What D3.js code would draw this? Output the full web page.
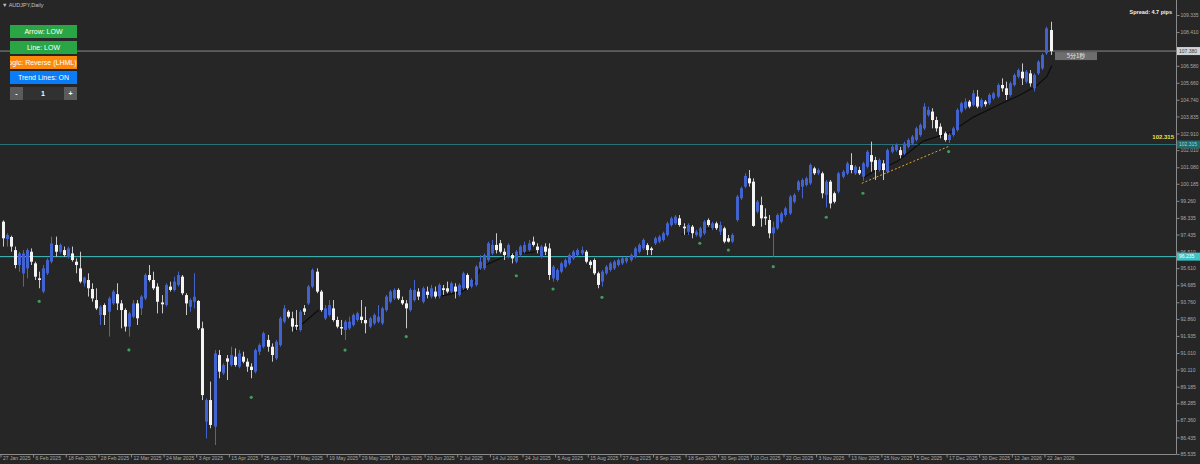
<!DOCTYPE html>
<html><head><meta charset="utf-8">
<script src="https://cdn.jsdelivr.net/npm/d3@7"></script>
<style>html,body{margin:0;padding:0;background:#262626;overflow:hidden}svg{display:block}</style>
</head><body><svg id="c" width="1200" height="464"></svg>
<script>
// ---------------- DATA ----------------
const symbolTitle = "▼ AUDJPY,Daily";
const open = [
98.13,97.19,97.30,96.59,95.78,95.33,95.60,96.50,95.87,95.06,
94.34,95.33,95.96,96.87,96.50,96.59,96.23,96.41,95.96,95.60,
94.79,94.97,94.48,93.88,93.07,93.61,93.25,93.70,94.20,93.70,
93.34,92.44,92.98,93.70,93.43,93.97,95.24,94.97,94.61,93.75,
93.61,94.61,94.43,94.70,95.15,94.15,93.52,93.79,93.83,92.35,
87.29,88.46,87.02,90.90,89.91,90.72,90.36,90.81,90.27,90.81,
90.54,90.27,90.00,91.08,91.35,91.72,91.35,90.72,91.44,92.71,
93.25,92.89,92.53,92.26,93.43,93.70,94.61,95.42,94.34,92.89,
93.07,93.43,92.80,92.42,92.26,92.35,92.53,92.80,92.98,92.80,
92.44,92.62,92.71,92.62,93.34,93.79,93.97,94.43,93.88,93.70,
93.34,93.88,94.34,93.79,94.34,94.07,94.34,94.07,94.52,94.52,
94.34,94.61,94.16,94.52,95.24,94.61,94.70,95.60,95.60,96.05,
96.41,96.87,96.96,96.50,96.23,96.32,95.96,96.32,96.50,96.59,
97.05,96.78,96.23,96.78,96.68,95.06,94.97,95.42,95.69,95.87,
96.14,96.32,96.41,96.50,95.96,96.05,95.33,94.88,95.33,95.51,
95.60,95.78,95.87,95.98,96.05,96.23,96.50,96.68,96.86,96.68,
96.96,97.05,97.14,97.41,97.95,98.04,98.31,97.86,97.59,97.86,
97.41,97.32,97.50,98.22,97.77,98.04,97.59,97.77,97.23,97.05,
98.22,99.40,100.03,100.48,100.30,98.67,99.03,98.40,98.22,97.50,
97.77,98.13,98.49,98.58,99.21,99.85,100.03,100.12,100.21,101.02,
100.75,100.75,99.58,100.30,99.67,99.76,100.57,100.75,101.20,100.75,
100.93,100.57,101.11,101.74,101.47,100.93,101.29,100.84,101.92,102.01,
102.01,101.83,102.19,102.37,102.56,102.83,103.19,103.91,104.10,103.64,
103.28,102.92,102.56,102.83,103.10,104.10,104.28,104.64,104.46,104.91,
104.37,104.64,104.55,104.82,104.91,105.54,105.36,105.00,105.54,105.99,
106.26,105.72,106.17,105.36,106.17,106.44,107.26,108.52];
const high = [
98.20,97.50,97.37,96.78,96.50,96.59,96.68,96.68,95.96,95.42,
95.78,96.14,97.32,97.32,96.95,96.78,96.78,96.78,96.14,96.50,
95.15,95.33,94.79,94.52,93.61,93.70,94.07,94.43,94.79,93.88,
93.43,93.25,93.88,93.88,94.15,95.33,95.78,95.42,94.79,94.15,
94.79,94.88,95.15,95.42,95.24,94.25,93.97,95.33,93.88,92.71,
88.55,89.46,91.17,91.17,90.45,90.90,91.35,91.26,91.17,91.08,
90.72,90.45,91.26,91.53,92.17,91.99,91.53,91.72,92.98,93.61,
93.34,93.25,93.34,93.34,93.61,94.70,95.60,95.60,94.43,93.61,
93.88,93.88,92.98,92.80,92.80,92.98,93.16,93.25,93.88,93.52,
92.98,93.16,93.61,93.52,94.16,94.43,94.52,94.52,94.07,93.88,
94.52,94.97,94.52,94.61,94.61,94.70,94.61,94.79,94.70,94.88,
94.88,94.79,94.79,95.42,95.33,95.06,95.78,96.32,96.41,97.05,
97.14,97.50,97.14,96.68,96.96,96.41,96.59,96.87,97.05,97.14,
97.32,96.96,96.87,96.96,96.96,95.78,95.60,95.96,96.14,96.41,
96.59,96.68,96.78,96.59,96.05,96.14,95.42,95.51,95.78,95.96,
96.05,96.14,96.23,96.23,96.41,96.77,96.96,97.23,96.96,96.77,
97.32,97.41,97.59,98.13,98.40,98.49,98.49,98.04,98.04,97.95,
97.68,97.86,98.22,98.31,98.13,98.13,98.13,97.86,97.41,97.50,
99.58,100.03,100.75,100.93,100.48,99.30,99.49,98.85,98.49,98.13,
98.58,98.67,98.94,99.58,99.67,100.39,100.48,100.57,101.29,101.11,
101.02,100.84,100.39,100.39,99.76,100.84,100.93,101.38,101.84,101.20,
101.11,101.38,102.01,102.47,101.65,101.56,101.47,102.10,102.28,102.37,
102.19,102.47,102.65,102.83,103.28,103.46,104.55,104.37,104.28,103.82,
103.46,103.01,102.92,103.28,104.28,104.64,104.82,104.73,105.27,105.27,
104.82,104.73,105.09,105.18,105.63,105.90,105.72,105.72,106.17,106.44,
106.71,106.35,106.35,106.17,106.89,107.26,108.70,108.97];
const low = [
96.78,96.78,96.50,95.60,95.42,94.61,95.06,95.78,94.97,94.52,
94.25,95.24,95.87,96.23,96.41,96.23,96.14,95.96,95.33,94.79,
94.61,94.07,93.79,93.34,92.53,92.53,91.90,93.61,93.34,92.35,
92.17,91.90,92.89,92.53,93.07,93.88,94.88,94.43,93.16,93.16,
93.52,94.34,94.34,94.61,94.15,93.07,93.25,93.43,92.26,88.46,
86.38,86.93,86.02,89.64,89.82,89.55,90.27,90.27,90.18,90.45,
89.99,89.64,89.91,90.90,91.26,91.08,90.54,90.63,91.35,92.62,
92.89,92.17,92.26,92.17,93.07,93.61,94.52,94.25,93.25,92.80,
92.98,92.71,92.35,91.99,91.72,92.26,92.44,92.71,92.62,92.08,
92.35,92.53,92.62,92.53,93.25,93.70,93.88,93.88,93.61,92.35,
93.25,93.79,93.88,93.70,93.97,93.97,93.97,93.97,94.16,94.25,
94.25,93.97,94.07,94.43,94.43,94.52,94.61,95.51,95.51,95.96,
96.32,96.41,96.41,96.05,96.14,95.87,95.87,96.23,96.41,96.50,
96.78,96.41,96.14,96.32,94.97,94.88,94.88,95.33,95.60,95.78,
96.05,96.23,96.32,95.87,95.60,95.24,94.52,94.61,95.24,95.42,
95.51,95.69,95.78,95.87,95.96,96.14,96.41,96.59,96.32,96.32,
96.86,96.96,97.05,97.32,97.86,97.95,97.86,97.41,97.41,97.23,
97.32,97.23,97.41,97.86,97.68,97.68,97.41,96.96,97.00,96.96,
98.13,99.31,99.94,100.03,97.86,98.58,97.86,97.95,97.23,96.23,
97.68,98.04,98.40,98.49,99.12,99.76,99.40,100.03,100.12,100.66,
100.66,99.40,98.90,98.85,99.12,99.67,100.48,100.66,100.75,100.66,
100.66,100.35,101.02,100.84,100.39,100.84,100.39,100.75,101.83,101.92,
101.56,101.74,102.10,102.28,102.47,102.74,103.10,103.82,103.19,103.01,
102.65,102.47,102.40,102.74,103.01,104.01,104.19,104.28,104.37,104.28,
104.28,104.37,104.46,104.73,104.82,105.18,104.73,104.91,105.45,105.90,
105.54,105.63,105.45,105.18,106.08,106.35,107.17,107.17];
const close = [
97.23,97.41,96.78,95.78,96.41,96.41,96.59,95.96,95.15,94.97,
95.60,96.05,96.95,96.50,96.87,96.32,96.68,96.05,95.78,94.88,
95.10,94.52,93.97,93.43,93.52,93.07,93.97,94.34,93.70,93.34,
92.44,93.16,93.70,92.89,94.07,95.24,94.97,94.52,93.79,93.65,
94.70,94.43,94.88,95.24,94.25,93.70,93.88,94.06,92.35,88.73,
88.46,87.11,90.99,90.00,90.36,90.54,90.90,90.36,90.99,90.54,
90.27,90.09,91.17,91.44,92.08,91.35,90.90,91.62,92.89,93.43,
92.98,92.44,92.44,93.25,93.25,94.61,95.51,94.34,93.34,93.43,
93.61,92.80,92.44,92.34,92.71,92.71,93.07,93.16,92.80,92.62,
92.89,93.07,92.98,93.43,94.07,94.34,94.43,93.97,93.70,93.43,
94.43,94.43,94.07,94.52,94.16,94.52,94.07,94.70,94.43,94.34,
94.79,94.34,94.70,95.33,94.52,94.97,95.69,95.96,96.32,96.96,
96.87,96.59,96.50,96.32,96.87,96.14,96.50,96.78,96.87,96.96,
96.87,96.59,96.78,96.50,95.24,95.69,95.51,95.87,96.05,96.32,
96.50,96.59,96.59,95.96,95.78,95.33,94.70,95.42,95.69,95.87,
95.96,96.05,96.14,96.16,96.32,96.68,96.87,97.14,96.59,96.59,
97.23,97.32,97.50,98.04,98.31,98.40,97.95,97.77,97.95,97.50,
97.59,97.77,98.13,97.95,98.04,97.77,97.95,97.05,97.05,97.41,
99.49,99.94,100.61,100.21,97.90,99.21,98.31,98.31,97.50,97.82,
98.49,98.58,98.85,99.49,99.58,100.30,100.39,100.48,101.20,100.75,
100.93,99.67,100.30,99.12,99.21,100.75,100.84,101.29,100.93,101.11,
100.75,101.29,101.92,101.38,100.93,101.47,100.93,102.01,102.19,102.28,
101.74,102.37,102.56,102.74,103.19,103.37,104.37,104.19,103.64,103.19,
102.83,102.56,102.83,103.19,104.19,104.55,104.64,104.37,105.09,104.37,
104.73,104.50,105.00,105.09,105.54,105.36,105.00,105.63,106.08,106.35,
105.90,106.26,105.63,106.08,106.80,107.17,108.61,107.38];

const dateLabels = ["27 Jan 2025","6 Feb 2025","18 Feb 2025","28 Feb 2025","12 Mar 2025","24 Mar 2025","3 Apr 2025","15 Apr 2025","25 Apr 2025","7 May 2025","19 May 2025","29 May 2025","10 Jun 2025","20 Jun 2025","2 Jul 2025","14 Jul 2025","24 Jul 2025","5 Aug 2025","15 Aug 2025","27 Aug 2025","8 Sep 2025","18 Sep 2025","30 Sep 2025","10 Oct 2025","22 Oct 2025","3 Nov 2025","13 Nov 2025","25 Nov 2025","5 Dec 2025","17 Dec 2025","30 Dec 2025","12 Jan 2026","22 Jan 2026"];
const dateTickIndex = [0,8,16,24,32,40,48,56,64,72,80,88,96,104,112,120,128,136,144,152,160,168,176,184,192,200,208,216,224,232,240,248,256];
const priceTicks = [109.335,108.410,107.495,106.580,105.660,104.740,103.835,102.910,102.010,101.080,100.185,99.260,98.335,97.435,96.510,95.610,94.685,93.760,92.860,91.935,91.010,90.110,89.185,88.285,87.360,86.435,85.535];

// "Line: LOW" indicator segments, [bar index, price]
const lowLineA = [[71.5,92.20],[77.5,93.34]];
const lowLineB = [[106,94.03],[112.6,94.34],[115,94.61],[117.5,95.69],[124,96.32],[130.6,96.50]];
const lowLineC = [[166.5,97.45],[170,97.52],[172,97.72],[176.5,97.80]];
const lowLineD = [[211,100.50],[213.5,100.84],[219.3,101.38],[225.8,102.50],[232.3,102.95],[238.1,103.80],[244.6,104.50],[249.5,105.00],[253.6,105.50],[256.1,106.00],[257.3,106.60]];
const trendLine = [[210.7,100.21],[231.9,102.20]];
// arrow signals [bar index, price]
const signalDots = [[9,93.81],[31,91.18],[61,88.61],[84,91.17],[99,91.90],[126,95.20],[135,94.48],[147,94.03],[171,96.96],[178,96.59],[189,95.69],[202,98.37],[211,99.67],[232,101.93]];

const currentPrice = 107.38;
const levelTeal = 102.315;
const levelCyan = 96.235;
const spreadText = "Spread: 4.7 pips";
const countdownText = "5分1秒";
const buttonLabels = ["Arrow: LOW","Line: LOW","Logic: Reverse (LHML)","Trend Lines: ON"];
const stepperValue = "1";

// ---------------- DRAW ----------------
const svg = d3.select("#c");
const W = 1200, H = 464, plotR = 1176, plotB = 454;
const FONT = "'Liberation Sans', Arial, sans-serif";
const BLUE = "#4263cf";

svg.append("rect").attr("width",W).attr("height",H).attr("fill","#262626");

const x = d3.scaleLinear().domain([0,257]).range([2.5, 2.5 + 4.078*257]);
const tickX = d3.scaleLinear().domain([0,257]).range([0, 4.078*257]);
const y = d3.scaleLinear().domain([85.535,109.335]).range([plotB,15]);

svg.append("defs").append("clipPath").attr("id","plot")
  .append("rect").attr("x",0).attr("y",0).attr("width",plotR).attr("height",plotB);
const plot = svg.append("g").attr("clip-path","url(#plot)");

// horizontal levels
plot.append("line").attr("x1",0).attr("x2",plotR).attr("y1",y(levelTeal)).attr("y2",y(levelTeal))
  .attr("stroke","#2b7479").attr("stroke-width",1);
plot.append("line").attr("x1",0).attr("x2",plotR).attr("y1",y(levelCyan)).attr("y2",y(levelCyan))
  .attr("stroke","#3fc3c3").attr("stroke-width",1);
plot.append("line").attr("x1",0).attr("x2",plotR).attr("y1",y(currentPrice)).attr("y2",y(currentPrice))
  .attr("stroke","#8a8a8a").attr("stroke-width",1);

// low line segments
const lineGen = d3.line().x(d=>x(d[0])).y(d=>y(d[1]));
[lowLineA,lowLineB,lowLineC,lowLineD].forEach(seg=>{
  plot.append("path").attr("d",lineGen(seg)).attr("fill","none").attr("stroke","#0d0d0d").attr("stroke-width",1.2);
});

// candles
const bars = d3.range(close.length).map(i=>({i,o:open[i],h:high[i],l:low[i],c:close[i]}));
const cg = plot.append("g");
cg.selectAll("line.w").data(bars).join("line")
  .attr("x1",d=>Math.round(x(d.i))+0.5).attr("x2",d=>Math.round(x(d.i))+0.5)
  .attr("y1",d=>y(Math.max(d.h,d.o,d.c))).attr("y2",d=>y(Math.min(d.l,d.o,d.c)))
  .attr("stroke",d=>d.c>=d.o?BLUE:"#c8c8c8").attr("stroke-width",1);
cg.selectAll("rect.b").data(bars).join("rect")
  .attr("x",d=>Math.round(x(d.i))-1).attr("width",3)
  .attr("y",d=>y(Math.max(d.o,d.c)))
  .attr("height",d=>Math.max(1,y(Math.min(d.o,d.c))-y(Math.max(d.o,d.c))))
  .attr("fill",d=>d.c>=d.o?BLUE:"#f4f4f4");

// trend line (dotted)
plot.append("path").attr("d",lineGen(trendLine)).attr("fill","none")
  .attr("stroke","#d9a73f").attr("stroke-width",1).attr("stroke-dasharray","2,2");

// signal dots
plot.selectAll("circle.s").data(signalDots).join("circle")
  .attr("cx",d=>x(d[0])).attr("cy",d=>y(d[1])).attr("r",1.6).attr("fill","#3f9b5e");

// axes frame
svg.append("line").attr("x1",0).attr("x2",plotR).attr("y1",plotB+0.5).attr("y2",plotB+0.5).attr("stroke","#8a8a8a");
svg.append("line").attr("x1",plotR+0.5).attr("x2",plotR+0.5).attr("y1",0).attr("y2",plotB+0.5).attr("stroke","#8a8a8a");

// bottom axis
const gx = svg.append("g").attr("transform",`translate(0.5,${plotB+0.5})`)
  .call(d3.axisBottom(tickX).tickValues(dateTickIndex).tickFormat((d,k)=>dateLabels[k]).tickSize(3));
gx.select(".domain").remove();
gx.attr("color","#8a8a8a");
gx.selectAll("text").attr("text-anchor","start").attr("x",2).attr("y",2).attr("dy","0.75em")
  .attr("fill","#a8a8a8").style("font-family",FONT).style("font-size","5px");

// right axis
const gy = svg.append("g").attr("transform",`translate(${plotR+0.5},0)`)
  .call(d3.axisRight(y).tickValues(priceTicks).tickFormat(d=>d.toFixed(3)).tickSize(3));
gy.select(".domain").remove();
gy.attr("color","#8a8a8a");
gy.selectAll("text").attr("x",4).attr("fill","#a8a8a8").style("font-family",FONT).style("font-size","5px");

// price boxes on the right axis
function priceBox(v, bg, fg){
  const g = svg.append("g");
  g.append("rect").attr("x",plotR+1).attr("y",y(v)-4).attr("width",23).attr("height",8).attr("fill",bg);
  g.append("text").attr("x",plotR+3).attr("y",y(v)).attr("dy","0.35em").attr("fill",fg)
    .style("font-family",FONT).style("font-size","5px").text(v.toFixed(3));
}
priceBox(currentPrice,"#d2d2d2","#3a3a3a");
priceBox(levelTeal,"#216a6e","#9fd4d4");
priceBox(levelCyan,"#3ec3c6","#ffffff");

// yellow level label
svg.append("text").attr("x",1174).attr("y",y(levelTeal)-5).attr("text-anchor","end")
  .attr("fill","#e9e24a").style("font-family",FONT).style("font-size","6px").style("font-weight","bold")
  .text(levelTeal.toFixed(3));

// spread
svg.append("text").attr("x",1172).attr("y",14).attr("text-anchor","end").attr("fill","#f0f0f0")
  .style("font-family",FONT).style("font-size","5.5px").style("font-weight","bold").text(spreadText);

// countdown box
svg.append("rect").attr("x",1055).attr("y",y(currentPrice)+1).attr("width",42).attr("height",8).attr("fill","#6e6e6e");
svg.append("text").attr("x",1076).attr("y",y(currentPrice)+5).attr("dy","0.36em").attr("text-anchor","middle")
  .attr("fill","#e8e8e8").style("font-family","'Noto Sans CJK SC', sans-serif").style("font-size","6px").text(countdownText);

// title
svg.append("text").attr("x",2).attr("y",6.5).attr("fill","#c4c4c4")
  .style("font-family",FONT).style("font-size","5.5px").text(symbolTitle);

// buttons
const btnColors = ["#2aa545","#2aa545","#fb8a0c","#0a7cf5"];
const btnY = [25,41,56,71];
const bg = svg.append("g");
buttonLabels.forEach((t,k)=>{
  const cid = "bclip"+k;
  bg.append("clipPath").attr("id",cid).append("rect").attr("x",10).attr("y",btnY[k]).attr("width",67).attr("height",13);
  bg.append("rect").attr("x",10).attr("y",btnY[k]).attr("width",67).attr("height",13).attr("fill",btnColors[k]);
  const overflow = k===2;
  bg.append("text").attr("clip-path",`url(#${cid})`)
    .attr("x", overflow ? 76.5 : 43.5).attr("y",btnY[k]+6.5).attr("dy","0.35em")
    .attr("text-anchor", overflow ? "end" : "middle").attr("fill","#ffffff")
    .style("font-family",FONT).style("font-size", "7px").text(t);
});
bg.append("rect").attr("x",10).attr("y",87).attr("width",67).attr("height",13).attr("fill","#313131");
bg.append("rect").attr("x",10).attr("y",87).attr("width",13).attr("height",13).attr("fill","#5b5b5b");
bg.append("rect").attr("x",64).attr("y",87).attr("width",13).attr("height",13).attr("fill","#5b5b5b");
[["-",16.5],[stepperValue,43],["+",70.5]].forEach(([t,cx])=>{
  bg.append("text").attr("x",cx).attr("y",93.5).attr("dy","0.35em").attr("text-anchor","middle")
    .attr("fill","#ffffff").style("font-family",FONT).style("font-size","7px").style("font-weight","bold").text(t);
});
</script></body></html>
